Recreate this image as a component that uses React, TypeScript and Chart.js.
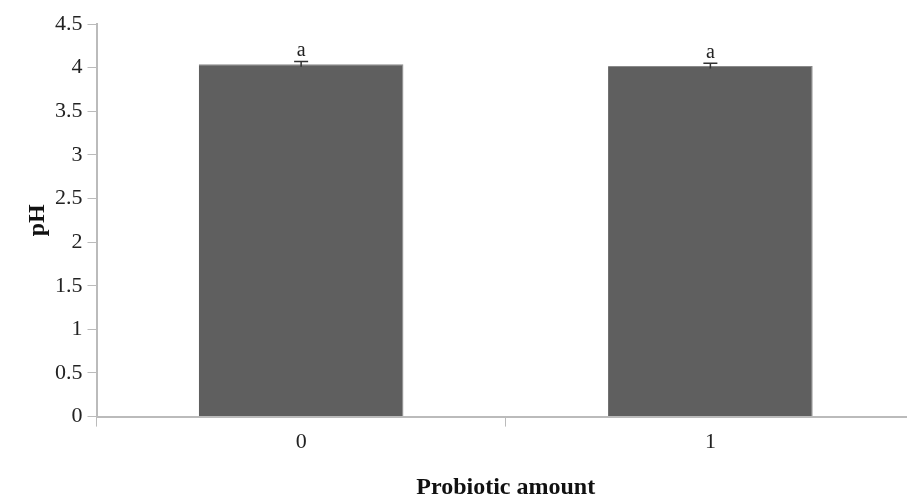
import React, { useEffect, useRef } from "react";
import { Chart, registerables } from "chart.js";

Chart.register(...registerables);

const categories = ["0", "1"];
const phValues = [4.04, 4.02];
const errors = [0.03, 0.03];
const letters = ["a", "a"];

const serif = "'Liberation Serif', 'Times New Roman', serif";

const annotatePlugin = {
  id: "annotate",
  afterDatasetsDraw(chart: any) {
    const ctx = chart.ctx;
    const meta = chart.getDatasetMeta(0);
    const y = chart.scales.y;
    ctx.save();
    meta.data.forEach((bar: any, i: number) => {
      const x = bar.x;
      const top = y.getPixelForValue(phValues[i] + errors[i]);
      const bot = y.getPixelForValue(phValues[i] - errors[i]);
      ctx.strokeStyle = "#333";
      ctx.lineWidth = 1.5;
      ctx.beginPath();
      ctx.moveTo(x, top);
      ctx.lineTo(x, bot);
      ctx.moveTo(x - 7, top);
      ctx.lineTo(x + 7, top);
      ctx.stroke();
      ctx.fillStyle = "#222";
      ctx.font = `20px ${serif}`;
      ctx.textAlign = "center";
      ctx.textBaseline = "bottom";
      ctx.fillText(letters[i], x, top - 1);
    });
    ctx.restore();
  },
};

export default function App() {
  const ref = useRef<HTMLCanvasElement>(null);
  useEffect(() => {
    document.body.style.overflow = "hidden";
    const chart = new Chart(ref.current!, {
      type: "bar",
      data: {
        labels: categories,
        datasets: [
          {
            data: phValues,
            backgroundColor: "#5f5f5f",
            borderColor: "#8a8a8a",
            borderWidth: { right: 1, top: 1, left: 0, bottom: 0 } as any,
            categoryPercentage: 1,
            barPercentage: 0.5,
          },
        ],
      },
      options: {
        animation: false,
        responsive: false,
        maintainAspectRatio: false,
        layout: { padding: { top: 24, left: 0, right: 10, bottom: 0 } },
        plugins: { legend: { display: false }, tooltip: { enabled: false } },
        scales: {
          x: {
            offset: true,
            grid: {
              offset: true,
              drawOnChartArea: false,
              tickLength: 10,
              color: "#bbbbbb",
              tickColor: "#bbbbbb",
            },
            border: { color: "#bbbbbb", width: 2 },
            ticks: { color: "#222", font: { family: serif, size: 22 }, padding: 2 },
            title: {
              display: true,
              text: "Probiotic amount",
              color: "#111",
              font: { family: serif, size: 24, weight: "bold", lineHeight: 1 },
              padding: { top: 19, bottom: 0 },
            },
          },
          y: {
            min: 0,
            max: 4.5,
            ticks: {
              stepSize: 0.5,
              color: "#222",
              font: { family: serif, size: 22 },
              padding: 5,
              callback: (v: any) => String(Number(v)),
            },
            grid: {
              drawOnChartArea: false,
              tickLength: 9,
              color: "#bbbbbb",
              tickColor: "#bbbbbb",
            },
            border: { color: "#bbbbbb", width: 2 },
            title: {
              display: true,
              text: "pH",
              color: "#111",
              font: { family: serif, size: 24, weight: "bold", lineHeight: 1 },
              padding: { top: 26, bottom: 0 },
            },
          },
        },
      },
      plugins: [annotatePlugin],
    });
    return () => chart.destroy();
  }, []);
  return (
    <div style={{ position: "fixed", left: 0, top: 0, width: 925, height: 500 }}>
      <canvas ref={ref} width={925} height={500} />
    </div>
  );
}
